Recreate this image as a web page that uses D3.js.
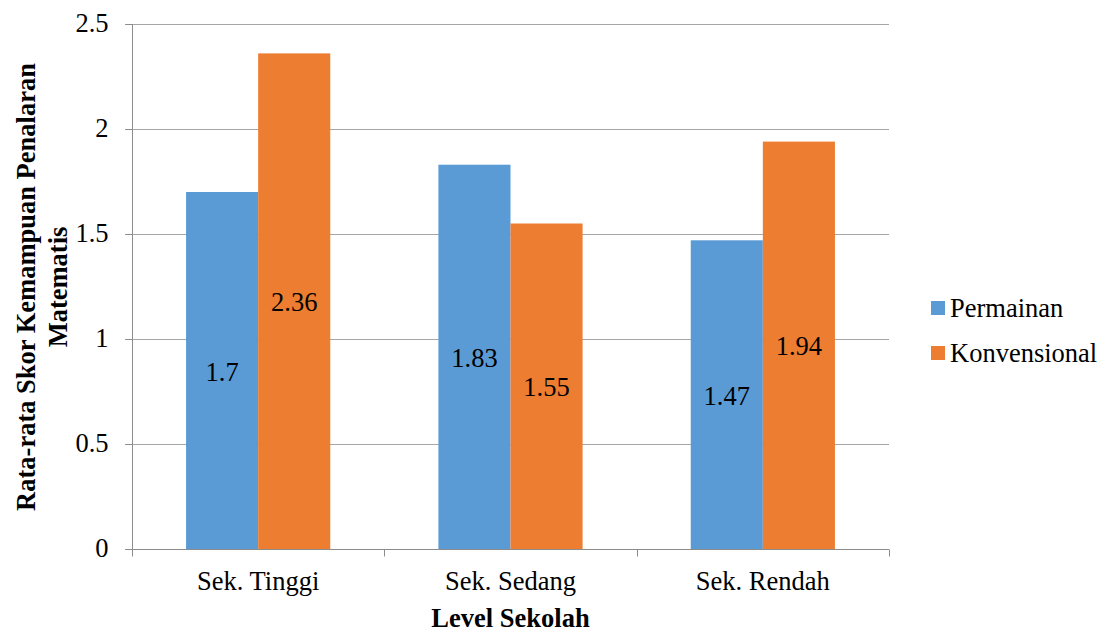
<!DOCTYPE html>
<html>
<head>
<meta charset="utf-8">
<script src="https://cdn.jsdelivr.net/npm/d3@7"></script>
<style>
  html, body { margin: 0; padding: 0; background: #fff; }
</style>
</head>
<body>
<svg id="chart" width="1114" height="632"></svg>
<script>
const categories = ["Sek. Tinggi", "Sek. Sedang", "Sek. Rendah"];
const seriesNames = ["Permainan", "Konvensional"];
const permainan = [1.7, 1.83, 1.47];
const konvensional = [2.36, 1.55, 1.94];
const yTicks = [0, 0.5, 1, 1.5, 2, 2.5];
const yTickLabels = ["0", "0.5", "1", "1.5", "2", "2.5"];
const colors = ["#5B9BD5", "#ED7D31"];

(function () {
const FONT = "Liberation Serif";
const FS = 26.5;
const svg = d3.select("#chart").attr("font-family", FONT);
const pL = 132, pR = 889, pT = 24, pB = 549;

const x0 = d3.scaleBand().domain(categories).range([pL, pR]).padding(0);
const x1 = d3.scaleBand().domain(seriesNames).range([0, x0.bandwidth()]).paddingInner(0).paddingOuter(0.75);
const y = d3.scaleLinear().domain([0, 2.5]).range([pB, pT]);

const gridColor = "#a6a6a6";
const axisColor = "#8c8c8c";

// gridlines
svg.append("g").selectAll("line").data(yTicks.filter(d => d > 0)).join("line")
  .attr("x1", pL - 7).attr("x2", pR)
  .attr("y1", d => Math.round(y(d)) + 0.5).attr("y2", d => Math.round(y(d)) + 0.5)
  .attr("stroke", gridColor).attr("stroke-width", 1);

// bars
const data = categories.map((c, i) => ({ c, vals: [permainan[i], konvensional[i]] }));
const groups = svg.append("g").selectAll("g").data(data).join("g")
  .attr("transform", d => `translate(${x0(d.c)},0)`);
groups.selectAll("rect").data(d => d.vals.map((v, j) => ({ v, s: seriesNames[j], j }))).join("rect")
  .attr("x", d => x1(d.s)).attr("width", x1.bandwidth())
  .attr("y", d => y(d.v)).attr("height", d => y(0) - y(d.v))
  .attr("fill", d => colors[d.j]);
groups.selectAll("text").data(d => d.vals.map((v, j) => ({ v, s: seriesNames[j], j }))).join("text")
  .attr("x", d => x1(d.s) + x1.bandwidth() / 2)
  .attr("y", d => (y(d.v) + y(0)) / 2 + 10)
  .attr("text-anchor", "middle").attr("font-size", FS).attr("fill", "#000")
  .text(d => String(d.v));

// y axis
const yAxis = d3.axisLeft(y).tickValues(yTicks).tickFormat((d, i) => yTickLabels[i]).tickSize(7).tickPadding(17);
const gy = svg.append("g").attr("transform", `translate(${pL + 0.5},0)`).call(yAxis);
gy.attr("font-family", FONT);
gy.select(".domain").attr("stroke", axisColor).attr("d", `M0,${pT}V${pB}`);
gy.selectAll(".tick line").attr("stroke", axisColor);
gy.selectAll(".tick text").attr("font-size", FS).attr("fill", "#000").attr("dy", "0.3em");

// x axis
const xAxis = d3.axisBottom(x0).tickSize(0).tickPadding(0).tickFormat(d => d);
const gx = svg.append("g").attr("transform", `translate(0,${pB + 0.5})`).call(xAxis);
gx.attr("font-family", FONT);
gx.select(".domain").attr("stroke", axisColor).attr("d", `M${pL - 7},0H${pR}`);
gx.selectAll(".tick text").attr("font-size", FS).attr("fill", "#000").attr("dy", 0).attr("y", 40);
// category boundary ticks
const boundaries = categories.map(c => x0(c)).concat([x0(categories[categories.length - 1]) + x0.bandwidth()]);
gx.append("g").selectAll("line").data(boundaries).join("line")
  .attr("x1", d => Math.round(d) + 0.5).attr("x2", d => Math.round(d) + 0.5)
  .attr("y1", 0).attr("y2", 7).attr("stroke", axisColor);

// axis titles
svg.append("text").attr("x", (pL + pR) / 2).attr("y", 627)
  .attr("text-anchor", "middle").attr("font-size", FS).attr("font-weight", "bold")
  .text("Level Sekolah");
const yt = svg.append("text").attr("transform", "translate(35,287) rotate(-90)")
  .attr("text-anchor", "middle").attr("font-size", FS).attr("font-weight", "bold");
yt.append("tspan").attr("x", 0).attr("y", 0).text("Rata-rata Skor Kemampuan Penalaran");
yt.append("tspan").attr("x", 0).attr("y", 32).text("Matematis");

// legend
const legend = svg.append("g").selectAll("g").data(seriesNames).join("g")
  .attr("transform", (d, i) => `translate(931,${301 + i * 45})`);
legend.append("rect").attr("width", 14).attr("height", 14).attr("fill", (d, i) => colors[i]);
legend.append("text").attr("x", 19).attr("y", 16).attr("font-size", FS).text(d => d);

svg.selectAll("text").attr("font-family", FONT);
})();
</script>
</body>
</html>
